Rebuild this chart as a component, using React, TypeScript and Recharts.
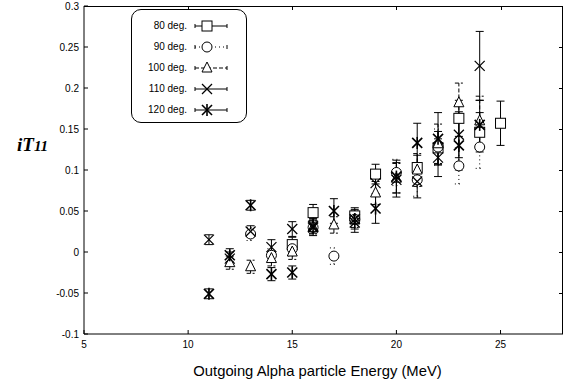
import React from 'react';
import { ScatterChart, Scatter, XAxis, YAxis, ErrorBar } from 'recharts';

// outgoing alpha energy (MeV), iT11 and its error, one set per angle
const energy80 = [15, 16, 18, 19, 21, 22, 23, 24, 25];
const it80 = [0.009, 0.048, 0.044, 0.095, 0.103, 0.127, 0.163, 0.146, 0.157];
const err80 = [0.009, 0.01, 0.01, 0.012, 0.015, 0.02, 0.022, 0.024, 0.027];

const energy90 = [13, 14, 15, 16, 17, 18, 20, 21, 22, 23, 24];
const it90 = [0.022, -0.004, 0.004, 0.03, -0.005, 0.04, 0.097, 0.088, 0.128, 0.105, 0.128];
const err90 = [0.008, 0.008, 0.009, 0.008, 0.01, 0.01, 0.016, 0.02, 0.022, 0.022, 0.026];

const energy100 = [12, 13, 14, 15, 16, 17, 18, 19, 20, 21, 22, 23, 24];
const it100 = [-0.013, -0.018, -0.008, 0.0, 0.03, 0.033, 0.04, 0.072, 0.09, 0.1, 0.132, 0.182, 0.16];
const err100 = [0.008, 0.008, 0.009, 0.009, 0.008, 0.01, 0.01, 0.014, 0.018, 0.02, 0.024, 0.024, 0.03];

const energy110 = [11, 12, 13, 14, 15, 16, 18, 19, 20, 21, 22, 23, 24];
const it110 = [0.015, -0.008, 0.025, 0.006, 0.028, 0.032, 0.036, 0.084, 0.088, 0.086, 0.115, 0.143, 0.227];
const err110 = [0.006, 0.008, 0.007, 0.009, 0.009, 0.009, 0.012, 0.016, 0.021, 0.02, 0.023, 0.028, 0.042];

const energy120 = [11, 12, 13, 14, 15, 16, 17, 18, 19, 20, 21, 22, 23, 24];
const it120 = [-0.051, -0.004, 0.057, -0.027, -0.025, 0.03, 0.05, 0.04, 0.053, 0.092, 0.133, 0.138, 0.13, 0.155];
const err120 = [0.006, 0.008, 0.006, 0.008, 0.008, 0.01, 0.015, 0.012, 0.018, 0.02, 0.024, 0.032, 0.03, 0.03];

const xDomain = [5, 28];
const yDomain = [-0.1, 0.3];
const xTicks = [5, 10, 15, 20, 25];
const yTicks = [-0.1, -0.05, 0, 0.05, 0.1, 0.15, 0.2, 0.25, 0.3];

// plot box in pixels (from the chart margins / axis sizes below)
const W = 586;
const H = 383;
const PLOT = { left: 84, top: 6, right: 563, bottom: 334 };

type Mark = 'square' | 'circle' | 'triangle' | 'cross' | 'star';

const toPoints = (xs: number[], ys: number[], es: number[]) =>
  xs.map((x, i) => ({ x, y: ys[i], err: es[i] }));

const series = [
  { name: '80 deg.', data: toPoints(energy80, it80, err80), mark: 'square' as Mark, dash: undefined },
  { name: '90 deg.', data: toPoints(energy90, it90, err90), mark: 'circle' as Mark, dash: '1 3' },
  { name: '100 deg.', data: toPoints(energy100, it100, err100), mark: 'triangle' as Mark, dash: '4 2' },
  { name: '110 deg.', data: toPoints(energy110, it110, err110), mark: 'cross' as Mark, dash: undefined },
  { name: '120 deg.', data: toPoints(energy120, it120, err120), mark: 'star' as Mark, dash: undefined },
];

const Glyph = ({ cx, cy, mark }: { cx: number; cy: number; mark: Mark }) => {
  const s = 5;
  switch (mark) {
    case 'square':
      return <rect x={cx - s} y={cy - s} width={2 * s} height={2 * s} fill="#fff" stroke="#000" strokeWidth={1} />;
    case 'circle':
      return <circle cx={cx} cy={cy} r={s} fill="#fff" stroke="#000" strokeWidth={1} />;
    case 'triangle':
      return (
        <polygon
          points={`${cx},${cy - s - 1} ${cx - s},${cy + s - 1} ${cx + s},${cy + s - 1}`}
          fill="#fff"
          stroke="#000"
          strokeWidth={1}
        />
      );
    case 'cross':
      return (
        <g stroke="#000" strokeWidth={1.2}>
          <line x1={cx - s} y1={cy - s} x2={cx + s} y2={cy + s} />
          <line x1={cx - s} y1={cy + s} x2={cx + s} y2={cy - s} />
        </g>
      );
    default:
      return (
        <g stroke="#000" strokeWidth={1.6}>
          <line x1={cx - s} y1={cy - s} x2={cx + s} y2={cy + s} />
          <line x1={cx - s} y1={cy + s} x2={cx + s} y2={cy - s} />
          <line x1={cx} y1={cy - s - 1} x2={cx} y2={cy + s + 1} />
        </g>
      );
  }
};

const LegendBox = () => (
  <div
    style={{
      position: 'absolute',
      left: 131,
      top: 9,
      width: 116,
      height: 114,
      border: '1px solid #000',
      borderRadius: 10,
      background: '#fff',
      boxSizing: 'border-box',
      paddingTop: 5,
    }}
  >
    {series.map((s) => (
      <div key={s.name} style={{ display: 'flex', alignItems: 'center', height: 21 }}>
        <span
          style={{
            width: 55,
            textAlign: 'right',
            fontSize: 10,
            fontFamily: 'Liberation Sans, Arial, sans-serif',
            color: '#000',
          }}
        >
          {s.name}
        </span>
        <svg width={44} height={14} style={{ marginLeft: 6 }}>
          <g stroke="#000" strokeWidth={1}>
            <line x1={2} y1={7} x2={34} y2={7} strokeDasharray={s.dash} />
            <line x1={2} y1={5} x2={2} y2={9} />
            <line x1={34} y1={5} x2={34} y2={9} />
          </g>
          <Glyph cx={14} cy={7} mark={s.mark} />
        </svg>
      </div>
    ))}
  </div>
);

// top and right sides of the frame, with inward ticks like the left/bottom axes
const FrameTopRight = () => {
  const w = PLOT.right - PLOT.left;
  const h = PLOT.bottom - PLOT.top;
  const sx = (v: number) => PLOT.left + ((v - xDomain[0]) / (xDomain[1] - xDomain[0])) * w;
  const sy = (v: number) => PLOT.top + ((yDomain[1] - v) / (yDomain[1] - yDomain[0])) * h;
  const tick = (left: number, top: number, width: number, height: number, key: string) => (
    <div key={key} style={{ position: 'absolute', left, top, width, height, background: '#000' }} />
  );
  return (
    <>
      <div
        style={{
          position: 'absolute',
          left: PLOT.left,
          top: PLOT.top,
          width: w,
          height: h,
          boxSizing: 'border-box',
          borderTop: '1px solid #000',
          borderRight: '1px solid #000',
          pointerEvents: 'none',
        }}
      />
      {xTicks.slice(1).map((t) => tick(Math.round(sx(t)), PLOT.top, 1, 4, `x${t}`))}
      {yTicks.slice(1, -1).map((t) => tick(PLOT.right - 4, Math.round(sy(t)), 4, 1, `y${t}`))}
    </>
  );
};

const axisFont = { fontSize: 10, fill: '#000', fontFamily: 'Liberation Sans, Arial, sans-serif' };

export default function App() {
  return (
    <div style={{ position: 'absolute', left: 0, top: 0, width: W, height: H, background: '#fff' }}>
      <ScatterChart
        width={W}
        height={H}
        margin={{ top: PLOT.top, right: W - PLOT.right, bottom: 0, left: 0 }}
      >
        <XAxis
          type="number"
          dataKey="x"
          domain={xDomain}
          ticks={xTicks}
          height={H - PLOT.bottom}
          tickSize={-4}
          tickMargin={11}
          tick={axisFont}
          stroke="#000"
          allowDataOverflow
          label={{
            value: 'Outgoing Alpha particle Energy (MeV)',
            position: 'insideBottom',
            offset: 7,
            dx: -6,
            fontSize: 14.8,
            fill: '#000',
            fontFamily: 'Liberation Sans, Arial, sans-serif',
          }}
        />
        <YAxis
          type="number"
          dataKey="y"
          domain={yDomain}
          ticks={yTicks}
          width={PLOT.left}
          tickSize={-4}
          tickMargin={9}
          tick={axisFont}
          stroke="#000"
          allowDataOverflow
        />
        {series.map((s) => (
          <Scatter
            key={s.name}
            name={s.name}
            data={s.data}
            isAnimationActive={false}
            shape={(p: any) => <Glyph cx={p.cx} cy={p.cy} mark={s.mark} />}
          >
            <ErrorBar
              dataKey="err"
              direction="y"
              width={4}
              stroke="#000"
              strokeWidth={1}
              strokeDasharray={s.dash}
            />
          </Scatter>
        ))}
      </ScatterChart>
      <FrameTopRight />
      <LegendBox />
      <div
        style={{
          position: 'absolute',
          left: 17,
          top: 134,
          fontFamily: 'Liberation Serif, Times New Roman, serif',
          fontWeight: 'bold',
          fontStyle: 'italic',
          color: '#000',
          whiteSpace: 'nowrap',
        }}
      >
        <span style={{ fontSize: 19 }}>iT</span>
        <span style={{ fontSize: 15 }}>11</span>
      </div>
    </div>
  );
}
